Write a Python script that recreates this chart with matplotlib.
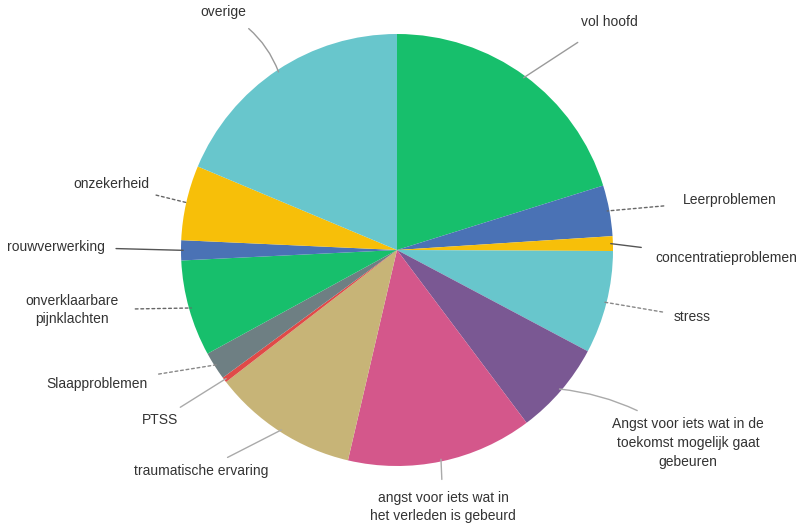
import numpy as np
import matplotlib.pyplot as plt

plt.rcParams['font.family'] = ['Liberation Sans', 'DejaVu Sans']

# slices, clockwise from 12 o'clock (percent)
labels = ['vol hoofd', 'Leerproblemen', 'concentratieproblemen', 'stress',
          'Angst voor iets wat in de\ntoekomst mogelijk gaat\ngebeuren',
          'angst voor iets wat in\nhet verleden is gebeurd',
          'traumatische ervaring', 'PTSS', 'Slaapproblemen',
          'onverklaarbare\npijnklachten', 'rouwverwerking', 'onzekerheid', 'overige']
values = [20.2, 3.8, 1.1, 7.7, 7.0, 13.9, 10.9, 0.4, 2.1, 7.2, 1.5, 5.6, 18.7]
colors = ['#17bf6c', '#4a72b5', '#f7bf09', '#68c6cc', '#7a5893', '#d4578b',
          '#c7b477', '#e04a48', '#6e7f83', '#17bf6c', '#4a72b5', '#f7bf09', '#68c6cc']

# label centres in pixels and connector styles
label_px = [(609, 22), (730, 200), (726, 258), (692, 317), (688, 443), (443, 507),
            (201, 471), (160, 420), (97, 384), (72, 310), (56, 247), (111, 184), (223, 12)]
line_ls = ['-', (0, (2, 2)), '-', (0, (2, 2)), '-', '-', '-', '-', (0, (2, 2)),
           (0, (2, 2)), '-', (0, (2, 2)), '-']
line_col = ['#9a9a9a', '#666666', '#555555', '#888888', '#aaaaaa', '#aaaaaa', '#aaaaaa',
            '#aaaaaa', '#888888', '#666666', '#555555', '#666666', '#9a9a9a']
line_rad = [0, 0, 0, 0, 0.15, 0, 0, 0, 0, 0, 0, 0, -0.2]
line_gap = [14, 12, 8, 6, 6, 6, 6, 4, 6, 10, 6, 4, 8]

W, H = 804, 528
cx, cy, R = 397, 250, 216

fig = plt.figure(figsize=(W / 100, H / 100), dpi=100)
ax = fig.add_axes([0, 0, 1, 1])
wedges, _ = ax.pie(values, colors=colors, startangle=90, counterclock=False,
                   radius=1, wedgeprops=dict(linewidth=0))
ax.set_xlim(-cx / R, (W - cx) / R)
ax.set_ylim((cy - H) / R, cy / R)
ax.set_aspect('equal')
ax.axis('off')

for w, lab, (px, py), ls, lc, rad, gap in zip(wedges, labels, label_px, line_ls,
                                              line_col, line_rad, line_gap):
    ang = np.deg2rad((w.theta1 + w.theta2) / 2)
    xa, ya = 0.99 * np.cos(ang), 0.99 * np.sin(ang)
    tx, ty = (px - cx) / R, (cy - py) / R
    ax.annotate(lab, xy=(xa, ya), xytext=(tx, ty), ha='center', va='center',
                multialignment='center', fontsize=10, color='#333333', linespacing=1.45,
                arrowprops=dict(arrowstyle='-', color=lc, lw=1.0, linestyle=ls,
                                shrinkA=gap, shrinkB=0,
                                connectionstyle='arc3,rad=%s' % rad))

fig.savefig('out.png', dpi=100)
